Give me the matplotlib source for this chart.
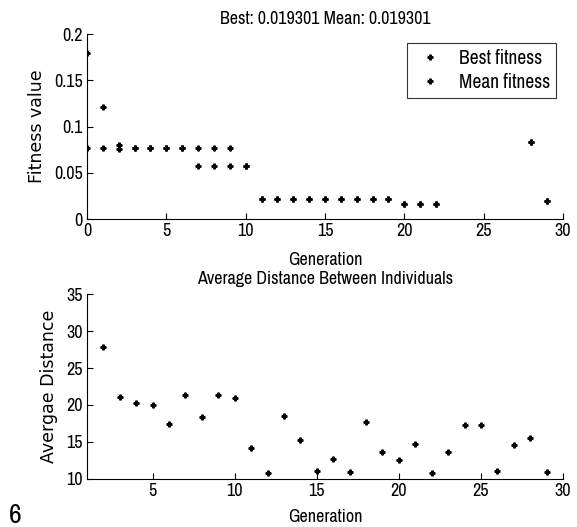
import numpy as np
import matplotlib
matplotlib.use("Agg")
from matplotlib import pyplot as plt

narrow = ['Liberation Sans Narrow', 'Archivo Narrow', 'Roboto Condensed', 'PT Sans Narrow',
          'Encode Sans Condensed', 'DejaVu Sans']
plt.rcParams['font.family'] = narrow

# top plot: fitness per generation
gen_best = [0, 1, 2, 3, 4, 5, 6, 7, 8, 9, 10, 11, 12, 13, 14, 15, 16, 17, 18, 19, 20, 21, 22, 28, 29]
best_fit = [0.0764, 0.0764, 0.0758, 0.0765, 0.0764, 0.0764, 0.0764, 0.0573, 0.0573, 0.0573, 0.0573,
            0.0216, 0.0216, 0.0216, 0.0216, 0.0216, 0.0216, 0.0216, 0.0216, 0.0216,
            0.0159, 0.0159, 0.0159, 0.0829, 0.0193]
gen_mean = [0, 1, 2, 3, 4, 5, 6, 7, 8, 9, 10, 11, 12, 13, 14, 15, 16, 17, 18, 19, 20, 21, 22, 28, 29]
mean_fit = [0.179, 0.1214, 0.0805, 0.0772, 0.0764, 0.0764, 0.0764, 0.0764, 0.0764, 0.0764, 0.0573,
            0.0216, 0.0216, 0.0216, 0.0216, 0.0216, 0.0216, 0.0216, 0.0216, 0.0216,
            0.0159, 0.0159, 0.0159, 0.0829, 0.0193]

# bottom plot: average distance between individuals
gen_dist = list(range(2, 30))
avg_dist = [27.9, 21.1, 20.3, 20.0, 17.4, 21.35, 18.4, 21.35, 21.0, 14.2, 10.86, 18.56,
            15.27, 11.1, 12.7, 11.0, 17.75, 13.7, 12.6, 14.7, 10.8, 13.6, 17.3, 17.3,
            11.1, 14.55, 15.5, 11.0]

fig = plt.figure(figsize=(5.77, 5.27), dpi=100)
ax1 = fig.add_axes([0.1508, 0.5844, 0.825, 0.351])
ax2 = fig.add_axes([0.1508, 0.0911, 0.825, 0.351])

ylab_font = ['DejaVu Sans']
ms = 3.5
ax1.plot(gen_best, best_fit, 'P', color='black', markersize=ms, label="Best fitness")
ax1.plot(gen_mean, mean_fit, 'P', color='black', markersize=ms, label="Mean fitness")
ax1.set_xlim(0, 30)
ax1.set_ylim(0, 0.2)
ax1.set_xticks([0, 5, 10, 15, 20, 25, 30])
ax1.set_yticks([0, 0.05, 0.1, 0.15, 0.2])
ax1.set_yticklabels(["0", "0.05", "0.1", "0.15", "0.2"])
ax1.set_title("Best: 0.019301 Mean: 0.019301", fontsize=13, pad=7)
ax1.set_xlabel("Generation", fontsize=13, labelpad=9)
ax1.set_ylabel("Fitness value", fontsize=12.5, family=ylab_font, labelpad=6)
leg = ax1.legend(loc='upper right', fontsize=14, frameon=True, fancybox=False,
                 edgecolor='black', handlelength=1.8, borderpad=0.3, labelspacing=0.25,
                 handletextpad=0.6, borderaxespad=0, bbox_to_anchor=(0.986, 0.95))
leg.get_frame().set_linewidth(0.8)

ax2.plot(gen_dist, avg_dist, 'P', color='black', markersize=ms)
ax2.set_xlim(1, 30)
ax2.set_ylim(10, 35)
ax2.set_xticks([5, 10, 15, 20, 25, 30])
ax2.set_yticks([10, 15, 20, 25, 30, 35])
ax2.set_title("Average Distance Between Individuals", fontsize=13, pad=7)
ax2.set_xlabel("Generation", fontsize=13, labelpad=7)
ax2.set_ylabel("Avergae Distance", fontsize=12.5, family=ylab_font, labelpad=6)

for ax in (ax1, ax2):
    ax.spines['top'].set_visible(False)
    ax.spines['right'].set_visible(False)
    ax.spines['left'].set_linewidth(0.8)
    ax.spines['bottom'].set_linewidth(0.8)
    ax.tick_params(direction='in', length=4, labelsize=13, width=0.8, pad=3)

fig.text(0.015, 0.008, "6", fontsize=20)

fig.savefig("out.png", dpi=100)
